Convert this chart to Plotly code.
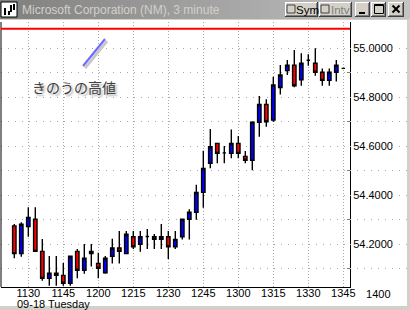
import plotly.graph_objects as go

# ---------------- data ----------------
day = "2001-09-18"
times = ["11:24", "11:27", "11:30", "11:33", "11:36", "11:39", "11:42", "11:45",
         "11:48", "11:51", "11:54", "11:57", "12:00", "12:03", "12:06", "12:09",
         "12:12", "12:15", "12:18", "12:21", "12:24", "12:27", "12:30", "12:33",
         "12:36", "12:39", "12:42", "12:45", "12:48", "12:51", "12:54", "12:57",
         "13:00", "13:03", "13:06", "13:09", "13:12", "13:15", "13:18", "13:21",
         "13:24", "13:27", "13:30", "13:33", "13:36", "13:39", "13:42", "13:45"]
opens = [54.275, 54.162, 54.272, 54.302, 54.171, 54.061, 54.082, 54.073,
         54.041, 54.171, 54.094, 54.171, 54.122, 54.084, 54.151, 54.185,
         54.162, 54.231, 54.200, 54.232, 54.231, 54.220, 54.231, 54.190,
         54.231, 54.302, 54.331, 54.412, 54.531, 54.612, 54.573, 54.571,
         54.612, 54.559, 54.543, 54.698, 54.771, 54.707, 54.840, 54.909,
         54.931, 54.871, 54.951, 54.939, 54.902, 54.869, 54.902, 54.918]
highs = [54.283, 54.290, 54.351, 54.351, 54.222, 54.152, 54.152, 54.124,
         54.151, 54.181, 54.201, 54.201, 54.166, 54.152, 54.223, 54.254,
         54.254, 54.254, 54.254, 54.262, 54.242, 54.283, 54.254, 54.254,
         54.302, 54.343, 54.443, 54.582, 54.671, 54.612, 54.601, 54.669,
         54.642, 54.581, 54.702, 54.805, 54.792, 54.884, 54.932, 54.952,
         54.993, 54.980, 54.976, 55.000, 54.918, 54.918, 54.952, 54.918]
lows = [54.143, 54.149, 54.231, 54.171, 54.051, 54.031, 54.031, 54.031,
        54.031, 54.061, 54.080, 54.109, 54.061, 54.080, 54.122, 54.122,
        54.162, 54.181, 54.170, 54.181, 54.181, 54.181, 54.140, 54.181,
        54.220, 54.220, 54.300, 54.349, 54.510, 54.531, 54.531, 54.551,
        54.551, 54.531, 54.502, 54.639, 54.680, 54.700, 54.811, 54.891,
        54.841, 54.847, 54.929, 54.888, 54.847, 54.847, 54.864, 54.918]
closes = [54.162, 54.282, 54.310, 54.171, 54.061, 54.082, 54.073, 54.041,
          54.151, 54.094, 54.143, 54.162, 54.102, 54.143, 54.185, 54.171,
          54.241, 54.190, 54.231, 54.232, 54.220, 54.231, 54.190, 54.220,
          54.302, 54.331, 54.412, 54.510, 54.598, 54.571, 54.573, 54.612,
          54.571, 54.543, 54.698, 54.771, 54.700, 54.850, 54.891, 54.931,
          54.847, 54.939, 54.951, 54.902, 54.869, 54.902, 54.931, 54.918]
prev_high = 55.08

x_tick_times = ["11:30", "11:45", "12:00", "12:15", "12:30", "12:45",
                "13:00", "13:15", "13:30", "13:45"]
x_tick_labels = ["1130", "1145", "1200", "1215", "1230", "1245",
                 "1300", "1315", "1330", "1345"]
extra_tick_times = ["14:00"]
extra_tick_labels = ["1400"]
top_tick_times = ["11:22:30", "11:30", "11:37:30", "11:45", "11:52:30", "12:00",
                  "12:07:30", "12:15", "12:22:30", "12:30", "12:37:30", "12:45",
                  "12:52:30", "13:00", "13:07:30", "13:15", "13:22:30", "13:30",
                  "13:37:30", "13:45"]
y_ticks = [54.2, 54.4, 54.6, 54.8, 55.0]
y_minor = [54.1, 54.3, 54.5, 54.7, 54.9]

title_text = "Microsoft Corporation (NM), 3 minute"
date_label = "09-18 Tuesday"
note_text = "きのうの高値"

# ---------------- layout helpers ----------------
W, H = 410, 310


def px(x):
    return x / W


def py(y):
    return 1 - y / H


FONT = "Arial, Liberation Sans, sans-serif"
GRID = "#a8a8a8"

fig = go.Figure()
fig.add_trace(go.Candlestick(
    x=[f"{day} {t}" for t in times],
    open=opens, high=highs, low=lows, close=closes,
    increasing=dict(line=dict(color="black", width=1.4), fillcolor="#0000ff"),
    decreasing=dict(line=dict(color="black", width=1.4), fillcolor="#ff0000"),
    whiskerwidth=0, hoverinfo="skip", showlegend=False,
))
# invisible helper so the continuation axis (1400 label) is drawn
fig.add_trace(go.Scatter(
    x=[f"{day} {t}" for t in extra_tick_times], y=[y_ticks[0]],
    xaxis="x2", yaxis="y", mode="markers", marker=dict(opacity=0),
    hoverinfo="skip", showlegend=False,
))

shapes = []
# client area
shapes.append(dict(type="rect", xref="paper", yref="paper", x0=px(0), x1=px(407),
                   y0=py(306), y1=py(20), fillcolor="white", line_width=0, layer="below"))
# title bar gradient
n = 41
c0, c1 = (128, 128, 128), (196, 196, 196)
for i in range(n):
    f = i / (n - 1)
    col = tuple(int(round(c0[k] + (c1[k] - c0[k]) * f)) for k in range(3))
    shapes.append(dict(type="rect", xref="paper", yref="paper",
                       x0=px(i * W / n), x1=px((i + 1) * W / n + 0.5),
                       y0=py(19), y1=py(0), fillcolor="rgb(%d,%d,%d)" % col,
                       line_width=0, layer="below"))

# icon
shapes.append(dict(type="rect", xref="paper", yref="paper", x0=px(1), x1=px(17),
                   y0=py(17), y1=py(2), fillcolor="white", line=dict(color="black", width=1)))
for (xa, ya, yb) in [(5, 8, 15), (9, 11, 15), (11, 5, 12), (14, 4, 10)]:
    shapes.append(dict(type="line", xref="paper", yref="paper", x0=px(xa), x1=px(xa),
                       y0=py(ya), y1=py(yb), line=dict(color="black", width=2)))


def button(x0, x1, y0=2, y1=17):
    shapes.append(dict(type="rect", xref="paper", yref="paper", x0=px(x0), x1=px(x1),
                       y0=py(y1), y1=py(y0), fillcolor="#d4d0c8", line_width=0))
    shapes.append(dict(type="line", xref="paper", yref="paper", x0=px(x0), x1=px(x1),
                       y0=py(y0 + 0.5), y1=py(y0 + 0.5), line=dict(color="white", width=1)))
    shapes.append(dict(type="line", xref="paper", yref="paper", x0=px(x0 + 0.5), x1=px(x0 + 0.5),
                       y0=py(y0), y1=py(y1), line=dict(color="white", width=1)))
    shapes.append(dict(type="line", xref="paper", yref="paper", x0=px(x0), x1=px(x1),
                       y0=py(y1 - 0.5), y1=py(y1 - 0.5), line=dict(color="#404040", width=1)))
    shapes.append(dict(type="line", xref="paper", yref="paper", x0=px(x1 - 0.5), x1=px(x1 - 0.5),
                       y0=py(y0), y1=py(y1), line=dict(color="#404040", width=1)))
    shapes.append(dict(type="line", xref="paper", yref="paper", x0=px(x0 + 1), x1=px(x1 - 1),
                       y0=py(y1 - 1.5), y1=py(y1 - 1.5), line=dict(color="#808080", width=1)))
    shapes.append(dict(type="line", xref="paper", yref="paper", x0=px(x1 - 1.5), x1=px(x1 - 1.5),
                       y0=py(y0 + 1), y1=py(y1 - 1), line=dict(color="#808080", width=1)))


def checkbox(x0):
    shapes.append(dict(type="rect", xref="paper", yref="paper", x0=px(x0), x1=px(x0 + 8),
                       y0=py(13), y1=py(5), fillcolor="#d4d0c8",
                       line=dict(color="#404040", width=1)))


button(285, 318)
checkbox(287)
button(319, 352)
checkbox(321)
button(355, 370)
button(371, 386)
button(388, 404)
# minimize glyph
shapes.append(dict(type="rect", xref="paper", yref="paper", x0=px(359), x1=px(365),
                   y0=py(14), y1=py(12), fillcolor="black", line_width=0))
# maximize glyph
shapes.append(dict(type="rect", xref="paper", yref="paper", x0=px(374.5), x1=px(383.5),
                   y0=py(13.5), y1=py(4.5), line=dict(color="black", width=1)))
shapes.append(dict(type="line", xref="paper", yref="paper", x0=px(374.5), x1=px(383.5),
                   y0=py(5.5), y1=py(5.5), line=dict(color="black", width=1)))
# close glyph
shapes.append(dict(type="line", xref="paper", yref="paper", x0=px(392.5), x1=px(399.5),
                   y0=py(5.5), y1=py(12.5), line=dict(color="black", width=2)))
shapes.append(dict(type="line", xref="paper", yref="paper", x0=px(399.5), x1=px(392.5),
                   y0=py(5.5), y1=py(12.5), line=dict(color="black", width=2)))

# left border of chart
shapes.append(dict(type="line", xref="x domain", yref="y domain", x0=0, x1=0, y0=0, y1=1,
                   line=dict(color="black", width=1)))
# yesterday's high line
shapes.append(dict(type="line", xref="x domain", yref="y", x0=0, x1=1,
                   y0=prev_high, y1=prev_high, line=dict(color="#ff0000", width=2)))
# annotation pointer with shadow
shapes.append(dict(type="line", xref="paper", yref="paper", x0=px(85), x1=px(107),
                   y0=py(68), y1=py(41), line=dict(color="#c8c8c8", width=3)))
shapes.append(dict(type="line", xref="paper", yref="paper", x0=px(83), x1=px(105),
                   y0=py(66), y1=py(39), line=dict(color="#6a6aff", width=2)))

annotations = [
    dict(text=title_text, xref="paper", yref="paper", x=px(20), y=py(10),
         xanchor="left", yanchor="middle", showarrow=False,
         font=dict(family=FONT, size=12, color="#d4d0c8")),
    dict(text="Sym", xref="paper", yref="paper", x=px(294), y=py(10),
         xanchor="left", yanchor="middle", showarrow=False,
         font=dict(family=FONT, size=11.5, color="black")),
    dict(text="Intv", xref="paper", yref="paper", x=px(328.5), y=py(10),
         xanchor="left", yanchor="middle", showarrow=False,
         font=dict(family=FONT, size=11.5, color="#808080")),
    dict(text=date_label, xref="paper", yref="paper", x=px(15), y=py(303.5),
         xanchor="left", yanchor="middle", showarrow=False,
         font=dict(family=FONT, size=11, color="black")),
    dict(text=note_text, xref="paper", yref="paper", x=px(74), y=py(87),
         xanchor="center", yanchor="middle", showarrow=False,
         font=dict(family="Noto Sans CJK JP", size=14, color="#404040",
                   shadow="2px 2px 2px #b0b0b0")),
]

x_range = [f"{day} 11:18:18", f"{day} 13:47:52"]
xfont = dict(family=FONT, size=11, color="black")

fig.update_layout(
    width=W, height=H,
    margin=dict(l=0, r=0, t=0, b=0, pad=0),
    paper_bgcolor="#d4d0c8", plot_bgcolor="white",
    showlegend=False,
    shapes=shapes, annotations=annotations,
    xaxis=dict(
        domain=[px(1), px(350)], range=x_range, type="date",
        rangeslider=dict(visible=False),
        tickvals=[f"{day} {t}" for t in x_tick_times], ticktext=x_tick_labels,
        tickfont=xfont, ticklabelstandoff=-4,
        showgrid=True, gridcolor=GRID, griddash="1px,2px", gridwidth=1,
        showline=True, linecolor="black", linewidth=1,
        ticks="", zeroline=False, automargin=False, fixedrange=True,
    ),
    xaxis2=dict(
        domain=[px(350), px(407)], anchor="y", type="date",
        range=[f"{day} 13:47:52", f"{day} 14:12:18"],
        tickvals=[f"{day} {t}" for t in extra_tick_times], ticktext=extra_tick_labels,
        tickfont=xfont, ticklabelstandoff=-1,
        showgrid=False, showline=False, zeroline=False, ticks="", automargin=False,
        fixedrange=True,
    ),
    xaxis3=dict(
        overlaying="x", side="top", anchor="y", type="date", range=x_range,
        tickvals=[f"{day} {t}" for t in top_tick_times],
        showticklabels=False, ticks="inside", ticklen=3, tickcolor="#505050",
        showgrid=False, showline=False, zeroline=False, automargin=False,
    ),
    yaxis=dict(
        domain=[py(287), py(22)], range=[54.0257, 55.1073], anchor="x", side="right",
        tickvals=y_ticks, tickformat=".4f",
        tickfont=dict(family=FONT, size=11, color="black"),
        showgrid=True, gridcolor=GRID, griddash="1px,6px", gridwidth=1,
        minor=dict(tickvals=y_minor, showgrid=True, gridcolor=GRID, griddash="1px,6px",
                   ticks="inside", ticklen=3, tickcolor="#808080"),
        ticks="", showline=True, linecolor="black", linewidth=1,
        zeroline=False, automargin=False, fixedrange=True,
    ),
)

fig.write_html("out.html")
